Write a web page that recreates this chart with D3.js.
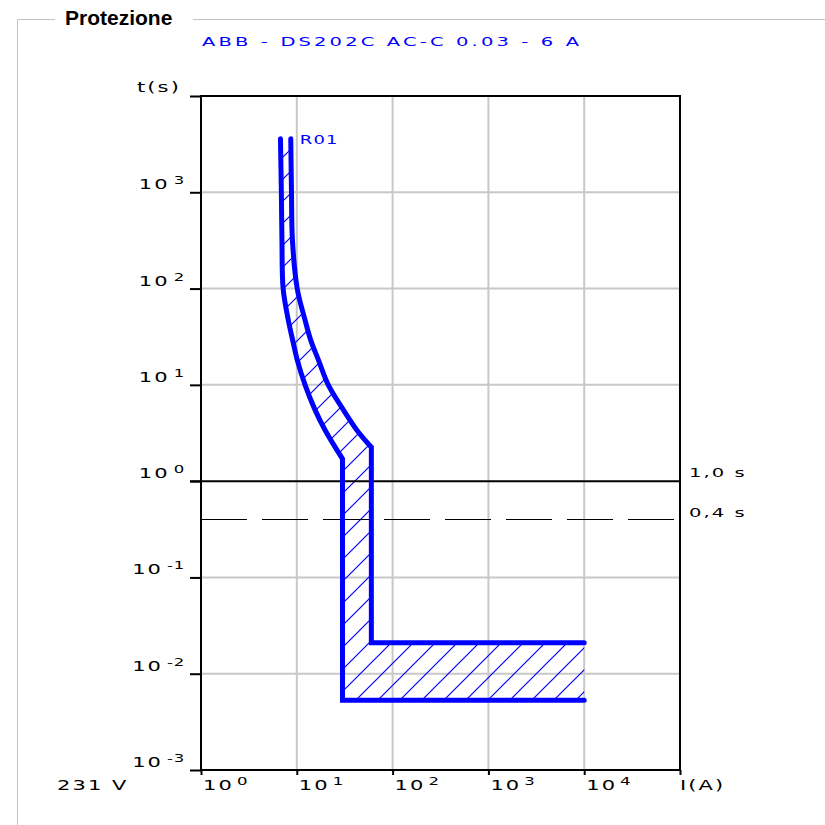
<!DOCTYPE html>
<html>
<head>
<meta charset="utf-8">
<script src="https://cdn.jsdelivr.net/npm/d3@7"></script>
<style>
  body { margin: 0; background: #fff; }
  svg { display: block; }
</style>
</head>
<body>
<div id="chart"></div>
<script>
// decades on both log axes
const xDecades = [1, 10, 100, 1000, 10000, 100000];
const xExponents = ["0", "1", "2", "3", "4"];
const yDecades = [0.001, 0.01, 0.1, 1, 10, 100, 1000, 10000];
const yExponents = ["-3", "-2", "-1", "0", "1", "2", "3"];

// trip curve of the breaker (A, s)
const minThermalI = [6.75, 6.9, 7.0, 7.2, 8.15, 9.06, 10.1, 12.2, 15.5, 19.7, 30];
const minThermalT = [3600, 1000, 320, 100, 47, 29, 18.2, 10, 5.5, 3.4, 1.7];
const minMagneticI = [30, 10000];
const minMagneticT = [0.0053, 0.0053];

const maxThermalI = [8.65, 8.8, 9.0, 10.1, 12.2, 14.0, 16.8, 21.3, 30.6, 42.2, 60];
const maxThermalT = [3600, 1000, 320, 100, 47, 29, 18.2, 10, 5.5, 3.4, 2.25];
const maxMagneticI = [60, 10000];
const maxMagneticT = [0.021, 0.021];

// reference times
const refTimes = [1.0, 0.4];
const refLabels = ["1,0 s", "0,4 s"];

const title = "ABB - DS202C AC-C 0.03 - 6 A";
const curveName = "R01";
const voltage = "231 V";

const chartWidth = 825, chartHeight = 825;
const plotLeft = 201, plotRight = 680, plotTop = 96, plotBottom = 770;
const blue = "#0000ff";
const grid = "#c8c8c8";
const SX = 1.5;

const svg = d3.select("#chart")
  .append("svg")
  .attr("width", chartWidth)
  .attr("height", chartHeight);

const x = d3.scaleLog().domain([1, 100000]).range([plotLeft, plotRight]);
const y = d3.scaleLog().domain([0.001, 10000]).range([plotBottom, plotTop]);

// wide, spaced text like the original
function label(g, str, px, py, o) {
  o = o || {};
  return g.append("text")
    .attr("transform", "translate(" + px + "," + py + ") scale(" + SX + ",1)")
    .attr("fill", o.color || "#000")
    .style("font-family", "'DejaVu Sans', Verdana, sans-serif")
    .style("font-size", (o.size || 14) + "px")
    .style("letter-spacing", (o.ls == null ? 1.4 : o.ls) + "px")
    .text(str);
}
function textWidth(t) {
  return t.node().getBBox().width * SX;
}

// fieldset frame
svg.append("path")
  .attr("d", "M55,19.5H17.5V825 M193,19.5H825")
  .attr("fill", "none")
  .attr("stroke", "#c4c4c4")
  .attr("stroke-width", 1);

svg.append("text")
  .attr("x", 65)
  .attr("y", 25)
  .style("font-family", "'Liberation Sans', Arial, sans-serif")
  .style("font-weight", "bold")
  .style("font-size", "21px")
  .text("Protezione");

label(svg, title, 202, 46, { color: blue, size: 13, ls: 2.1 });

// grid
svg.append("g")
  .selectAll("line")
  .data(xDecades.slice(1, -1))
  .enter()
  .append("line")
    .attr("x1", d => x(d)).attr("x2", d => x(d))
    .attr("y1", plotTop).attr("y2", plotBottom)
    .attr("stroke", grid).attr("stroke-width", 2);

svg.append("g")
  .selectAll("line")
  .data(yDecades.slice(1, -1).filter(d => d !== 1))
  .enter()
  .append("line")
    .attr("x1", plotLeft).attr("x2", plotRight)
    .attr("y1", d => y(d)).attr("y2", d => y(d))
    .attr("stroke", grid).attr("stroke-width", 2);

// hatch pattern
const defs = svg.append("defs");
defs.append("pattern")
  .attr("id", "hatch")
  .attr("patternUnits", "userSpaceOnUse")
  .attr("width", 22)
  .attr("height", 22)
  .append("path")
    .attr("d", "M0,22L22,0M-5.5,5.5L5.5,-5.5M16.5,27.5L27.5,16.5")
    .attr("stroke", blue)
    .attr("stroke-width", 1.2);

const smooth = d3.line().x(d => x(d[0])).y(d => y(d[1])).curve(d3.curveCatmullRom.alpha(0.5));
const straight = d3.line().x(d => x(d[0])).y(d => y(d[1]));
// drop the leading move-to so two paths join at a shared point
const tail = d => d.replace(/^M[^A-Za-z]*/, "");

const minSmooth = d3.zip(minThermalI, minThermalT);
const minTail = [minSmooth[minSmooth.length - 1]].concat(d3.zip(minMagneticI, minMagneticT));
const maxSmooth = d3.zip(maxThermalI, maxThermalT);
const maxTail = [maxSmooth[maxSmooth.length - 1]].concat(d3.zip(maxMagneticI, maxMagneticT));

const minD = smooth(minSmooth) + tail(straight(minTail));
const maxD = smooth(maxSmooth) + tail(straight(maxTail));
const maxBack = straight(maxTail.slice().reverse()) + tail(smooth(maxSmooth.slice().reverse()));

svg.append("path")
  .attr("d", minD + "L" + maxBack.slice(1) + "Z")
  .attr("fill", "url(#hatch)")
  .attr("stroke", "none");

// reference lines
svg.append("line")
  .attr("x1", plotLeft - 11).attr("x2", plotRight)
  .attr("y1", y(refTimes[0])).attr("y2", y(refTimes[0]))
  .attr("stroke", "#000").attr("stroke-width", 2);

svg.append("line")
  .attr("x1", plotLeft).attr("x2", plotRight)
  .attr("y1", Math.round(y(refTimes[1])) + 0.5).attr("y2", Math.round(y(refTimes[1])) + 0.5)
  .attr("stroke", "#000").attr("stroke-width", 1)
  .attr("stroke-dasharray", "46,15");

refLabels.forEach((s, i) => label(svg, s, 689, y(refTimes[i]) - 4 + (i ? 2 : 0), { size: 13, ls: 1.4 }));

// axes
const yAxis = svg.append("g")
  .attr("transform", "translate(" + plotLeft + ",0)")
  .call(d3.axisLeft(y).tickValues(yDecades).tickSize(11).tickFormat(""));
const xAxis = svg.append("g")
  .attr("transform", "translate(0," + plotBottom + ")")
  .call(d3.axisBottom(x).tickValues(xDecades).tickSize(5).tickFormat(""));
[yAxis, xAxis].forEach(a => {
  a.selectAll("line").attr("stroke", "#000").attr("stroke-width", 2);
  a.select(".domain").remove();
});

svg.append("path")
  .attr("d", "M" + plotLeft + "," + (plotBottom + 1) + "V" + plotTop + "H" + plotRight + "V" + plotBottom + "H" + plotLeft)
  .attr("fill", "none")
  .attr("stroke", "#000")
  .attr("stroke-width", 2);

// tick labels
yExponents.forEach((e, i) => {
  const ty = y(yDecades[i]) - 3;
  const ex = label(svg, e, 0, ty - 5, { size: 11, ls: 0.5 });
  const ew = textWidth(ex);
  ex.attr("transform", "translate(" + (185 - ew) + "," + (ty - 5) + ") scale(" + SX + ",1)");
  const b = label(svg, "10", 0, ty);
  const bw = textWidth(b);
  b.attr("transform", "translate(" + (185 - ew - 4 - bw) + "," + ty + ") scale(" + SX + ",1)");
});

label(svg, "t(s)", 137, 92);

xExponents.forEach((e, i) => {
  const px = x(xDecades[i]) + 2;
  const b = label(svg, "10", px, 790);
  label(svg, e, px + textWidth(b) + 3, 785, { size: 11, ls: 0.5 });
});

label(svg, "I(A)", 680, 790);
label(svg, voltage, 57, 790);

// trip curves
[minD, maxD].forEach(d => {
  svg.append("path")
    .attr("d", d)
    .attr("fill", "none")
    .attr("stroke", blue)
    .attr("stroke-width", 5)
    .attr("stroke-linecap", "round")
    .attr("stroke-linejoin", "miter");
});

label(svg, curveName, x(maxThermalI[0]) + 9, 144, { color: blue, size: 12, ls: 0.8 });
</script>
</body>
</html>
